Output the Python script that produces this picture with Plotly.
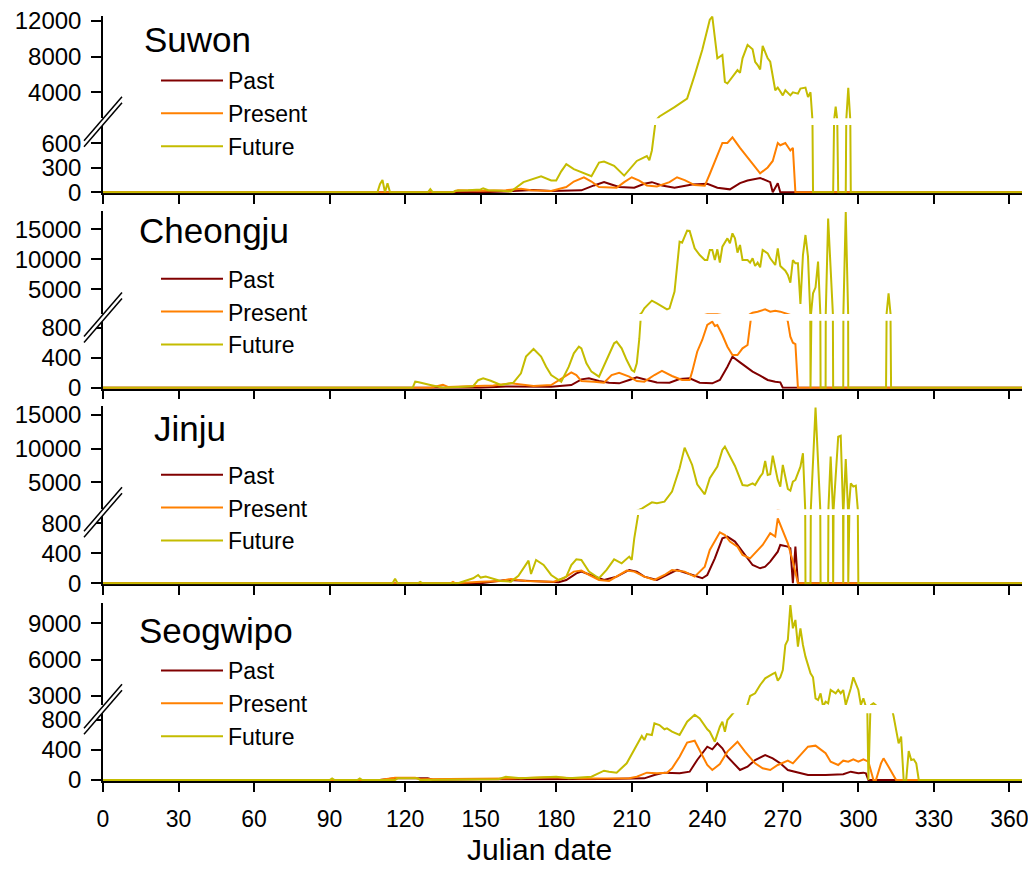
import plotly.graph_objects as go

# ---------------- data ----------------
stations = ["Suwon", "Cheongju", "Jinju", "Seogwipo"]
series_names = ["Past", "Present", "Future"]
series_colors = ["#800000", "#FF8000", "#C4BC00"]
x_tick_vals = [0, 30, 60, 90, 120, 150, 180, 210, 240, 270, 300, 330, 360]
x_title = "Julian date"

lower_ticks = [[0, 300, 600], [0, 400, 800], [0, 400, 800], [0, 400, 800]]
upper_ticks = [[4000, 8000, 12000], [5000, 10000, 15000], [5000, 10000, 15000], [3000, 6000, 9000]]

# Suwon
suwon_past_day = [0, 150, 160, 171, 178, 190, 195, 199, 201, 205, 211, 215, 218, 222, 227, 234, 240, 244, 249, 253, 256, 261, 265, 266, 268, 269, 365]
suwon_past_val = [0, 0, 10, 28, 16, 24, 84, 124, 104, 64, 56, 104, 124, 84, 56, 96, 104, 56, 36, 112, 144, 176, 124, 0, 112, 0, 0]
suwon_present_day = [0, 139, 141, 150, 160, 166, 170, 178, 184, 187, 191, 194, 197, 204, 207, 210, 213, 216, 220, 225, 228, 231, 235, 239, 241, 244, 246, 248, 250, 253, 258, 261, 264, 266, 268, 269, 271, 272, 273, 274, 275, 365]
suwon_present_val = [0, 0, 25, 20, 25, 44, 24, 16, 64, 132, 184, 132, 64, 56, 124, 184, 144, 84, 72, 124, 184, 150, 88, 80, 224, 464, 604, 604, 672, 544, 344, 232, 304, 384, 604, 576, 604, 556, 512, 544, 0, 0]
suwon_future_day = [0, 109, 110, 111, 112, 113, 114, 129, 130, 131, 139, 140, 145, 150, 151, 153, 158, 162, 167, 174, 178, 180, 182, 184, 187, 190, 194, 197, 199, 203, 207, 212, 216, 217, 218, 220, 221, 227, 232, 235, 238, 241, 242, 244, 246, 247, 248, 252, 253, 254, 256, 258, 259, 260, 261, 262, 264, 265, 267, 268, 270, 271, 273, 274, 276, 277, 279, 280, 281, 282, 290, 291, 292, 295, 296, 297, 365]
suwon_future_val = [0, 0, 100, 150, 0, 110, 0, 0, 40, 0, 0, 20, 25, 35, 50, 25, 20, 10, 124, 196, 144, 144, 256, 344, 284, 244, 196, 364, 376, 324, 204, 384, 444, 392, 512, 1000, 1300, 2343, 3290, 5916, 8733, 12114, 12450, 7797, 8170, 5160, 4980, 6480, 6175, 7800, 9300, 8810, 7415, 7040, 6560, 9180, 7800, 7415, 4225, 4530, 3660, 4225, 3660, 4000, 3850, 4415, 4530, 3470, 4000, 0, 0, 2400, 0, 0, 4500, 0, 0]

# Cheongju
cheongju_past_day = [0, 150, 160, 178, 186, 190, 193, 197, 201, 205, 209, 212, 216, 220, 225, 229, 233, 237, 242, 245, 248, 250, 253, 256, 258, 261, 264, 267, 269, 270, 365]
cheongju_past_val = [0, 0, 15, 13, 36, 111, 125, 89, 67, 58, 103, 138, 103, 71, 67, 116, 125, 67, 58, 103, 280, 414, 338, 258, 214, 160, 103, 80, 71, 0, 0]
cheongju_present_day = [0, 130, 135, 137, 145, 155, 162, 171, 178, 182, 186, 188, 190, 195, 199, 202, 205, 209, 212, 215, 219, 222, 226, 230, 233, 234, 236, 238, 240, 242, 243, 244, 246, 248, 250, 252, 254, 256, 257, 258, 260, 263, 265, 267, 269, 271, 272, 273, 274, 275, 276, 365]
cheongju_present_val = [0, 0, 40, 10, 20, 30, 58, 22, 36, 125, 205, 169, 89, 80, 67, 169, 200, 147, 89, 80, 169, 223, 156, 103, 103, 214, 480, 636, 836, 880, 823, 836, 703, 547, 436, 436, 525, 569, 880, 1100, 1272, 1661, 1272, 1439, 1272, 1000, 880, 680, 600, 582, 0, 0]
cheongju_future_day = [0, 123, 124, 125, 130, 135, 147, 149, 151, 154, 158, 163, 166, 168, 171, 173, 174, 176, 178, 181, 182, 185, 187, 189, 190, 192, 194, 197, 200, 203, 204, 206, 208, 210, 211, 212, 213, 214, 215, 218, 220, 224, 225, 227, 229, 230, 232, 233, 235, 237, 239, 240, 241, 242, 243, 244, 245, 246, 248, 249, 250, 251, 252, 253, 254, 256, 257, 258, 259, 260, 261, 262, 264, 265, 267, 268, 269, 271, 272, 273, 274, 275, 276, 277, 278, 279, 280, 281, 282, 283, 284, 285, 287, 288, 290, 294, 295, 296, 311, 312, 313, 365]
cheongju_future_val = [0, 0, 80, 75, 36, 0, 20, 100, 124, 93, 36, 67, 191, 414, 516, 449, 414, 280, 169, 103, 80, 280, 458, 547, 525, 325, 214, 147, 369, 592, 614, 525, 369, 236, 214, 325, 650, 1100, 1828, 3105, 2661, 1661, 1828, 4606, 12939, 12767, 14767, 14711, 11828, 10717, 9883, 9883, 11550, 11550, 9883, 11661, 9440, 12106, 13495, 12661, 14328, 13495, 11106, 12384, 9883, 9883, 9440, 10161, 8883, 9440, 8661, 11550, 10995, 10161, 9050, 11828, 8883, 8106, 7383, 6106, 9883, 9328, 9328, 2550, 10717, 14050, 10439, 0, 4328, 5328, 9606, 0, 0, 16800, 0, 0, 17900, 0, 0, 4328, 0, 0]

# Jinju
jinju_past_day = [0, 150, 160, 168, 181, 184, 188, 190, 195, 199, 204, 209, 212, 215, 220, 224, 228, 232, 238, 240, 243, 246, 248, 251, 255, 258, 261, 263, 265, 268, 269, 272, 273, 274, 275, 276, 365]
jinju_past_val = [0, 0, 44, 31, 13, 44, 133, 156, 89, 44, 89, 178, 156, 89, 44, 111, 178, 133, 67, 111, 333, 600, 622, 556, 378, 244, 200, 222, 289, 422, 511, 489, 467, 0, 489, 0, 0]
jinju_present_day = [0, 138, 139, 140, 150, 158, 162, 168, 179, 183, 187, 190, 193, 197, 201, 205, 208, 211, 215, 219, 223, 226, 231, 235, 239, 241, 245, 247, 249, 252, 254, 257, 259, 262, 265, 267, 268, 270, 272, 274, 276, 365]
jinju_present_val = [0, 0, 20, 0, 20, 31, 58, 31, 22, 67, 156, 169, 111, 44, 31, 111, 169, 156, 89, 44, 111, 178, 156, 89, 222, 444, 680, 644, 556, 489, 378, 333, 400, 511, 667, 622, 867, 689, 533, 289, 0, 0]
jinju_future_day = [0, 115, 116, 117, 125, 126, 127, 141, 147, 149, 150, 152, 158, 162, 165, 169, 170, 172, 175, 178, 181, 184, 186, 188, 190, 193, 197, 200, 203, 206, 209, 210, 211, 213, 214, 218, 220, 223, 226, 229, 231, 234, 236, 239, 241, 244, 246, 247, 249, 251, 254, 256, 258, 259, 261, 262, 263, 264, 265, 266, 268, 269, 270, 272, 273, 274, 275, 277, 278, 279, 281, 283, 285, 288, 289, 290, 292, 293, 294, 295, 296, 297, 298, 299, 300, 365]
jinju_future_val = [0, 0, 60, 0, 0, 20, 0, 0, 67, 111, 76, 89, 31, 22, 100, 302, 124, 311, 244, 111, 44, 89, 244, 320, 311, 156, 67, 178, 320, 267, 356, 311, 600, 900, 1100, 2028, 1880, 2127, 3613, 7080, 10151, 7576, 4703, 3217, 5594, 7328, 9804, 10300, 8814, 7427, 4604, 4505, 4851, 4604, 5842, 6337, 8170, 6090, 6189, 8962, 5347, 4356, 7576, 4009, 3762, 5099, 5347, 7328, 9309, 0, 0, 16100, 0, 0, 8814, 0, 11786, 11934, 0, 8467, 0, 4851, 4356, 4505, 0, 0]

# Seogwipo
seogwipo_past_day = [0, 110, 116, 129, 131, 150, 200, 215, 219, 223, 229, 233, 236, 240, 242, 244, 246, 248, 253, 256, 259, 263, 266, 269, 272, 276, 280, 287, 294, 297, 300, 302, 303, 304, 365]
seogwipo_past_val = [0, 0, 22, 22, 5, 10, 13, 22, 67, 98, 89, 111, 267, 444, 409, 489, 422, 311, 133, 178, 267, 333, 289, 222, 133, 98, 67, 67, 76, 111, 89, 98, 89, 0, 0]
seogwipo_present_day = [0, 110, 116, 124, 126, 133, 150, 160, 178, 190, 209, 212, 216, 220, 224, 226, 229, 232, 235, 237, 240, 242, 245, 248, 252, 255, 259, 262, 265, 268, 272, 274, 278, 280, 283, 287, 289, 292, 294, 296, 298, 300, 302, 304, 306, 307, 309, 310, 312, 315, 365]
seogwipo_present_val = [0, 0, 31, 31, 10, 13, 13, 20, 36, 20, 22, 44, 98, 89, 98, 156, 311, 498, 524, 400, 200, 133, 213, 378, 511, 378, 222, 156, 133, 200, 258, 222, 378, 444, 458, 356, 244, 200, 258, 244, 276, 244, 276, 244, 0, 0, 222, 289, 178, 0, 0]
seogwipo_future_day = [0, 90, 91, 92, 101, 102, 103, 116, 117, 125, 126, 134, 135, 149, 157, 160, 166, 180, 185, 194, 199, 201, 204, 208, 211, 214, 215, 216, 218, 219, 221, 223, 224, 226, 229, 232, 235, 237, 240, 241, 243, 245, 246, 247, 248, 250, 252, 254, 256, 257, 259, 261, 263, 266, 267, 268, 269, 270, 271, 272, 273, 274, 275, 276, 277, 278, 279, 281, 282, 283, 284, 285, 286, 287, 288, 289, 291, 292, 293, 294, 295, 297, 298, 300, 301, 302, 303, 304, 305, 306, 307, 309, 311, 313, 314, 316, 317, 318, 319, 320, 321, 322, 323, 324, 365]
seogwipo_future_val = [0, 0, 20, 0, 0, 20, 0, 0, 22, 22, 0, 0, 10, 10, 10, 44, 22, 44, 22, 44, 124, 111, 98, 222, 409, 587, 533, 613, 600, 756, 733, 676, 689, 644, 600, 778, 870, 822, 676, 644, 511, 711, 778, 644, 800, 880, 960, 1500, 2300, 3000, 3220, 3908, 4459, 4817, 4927, 4266, 4542, 5147, 7212, 7625, 10500, 8589, 9277, 7075, 8589, 7212, 6249, 4872, 4542, 2807, 2670, 3220, 2119, 2532, 2394, 3496, 3220, 3496, 3220, 3496, 2257, 3633, 4542, 3496, 2257, 2807, 2119, 0, 2257, 2394, 2257, 1900, 1500, 1000, 850, 489, 578, 0, 0, 387, 267, 276, 222, 0, 0]

station_series = [
    [(suwon_past_day, suwon_past_val), (suwon_present_day, suwon_present_val), (suwon_future_day, suwon_future_val)],
    [(cheongju_past_day, cheongju_past_val), (cheongju_present_day, cheongju_present_val), (cheongju_future_day, cheongju_future_val)],
    [(jinju_past_day, jinju_past_val), (jinju_present_day, jinju_present_val), (jinju_future_day, jinju_future_val)],
    [(seogwipo_past_day, seogwipo_past_val), (seogwipo_present_day, seogwipo_present_val), (seogwipo_future_day, seogwipo_future_val)],
]

# ---------------- layout geometry (screen pixels) ----------------
OFF = 8                              # page body margin of the browser
W, H = 1036 - 2 * OFF, 873 - 2 * OFF  # figure size that fits without scrollbars
ML, MR, MT = 103 - OFF, W - (1022 - OFF), 0
MB = H - (781 - OFF)
PW = W - ML - MR
PH = H - MT - MB


def pxx(p):
    return (p - OFF - ML) / PW


def pxy(p):
    return 1 - (p - OFF - MT) / PH


# tick calibration (value, screen pixel) for lower / upper segments
cal_lower = [((0, 192.3), (600, 143.3)), ((0, 387.7), (800, 327.7)),
             ((0, 583.3), (800, 523.3)), ((0, 780.0), (800, 720.0))]
cal_upper = [((4000, 92.3), (12000, 20.7)), ((5000, 289.3), (15000, 229.3)),
             ((5000, 482.3), (15000, 415.0)), ((3000, 696.0), (9000, 623.3))]
dom_lower_px = [(193.3, 125.0), (388.7, 320.7), (584.3, 515.0), (781.0, 713.3)]
dom_upper_px = [(118.3, 15.5), (314.0, 210.5), (509.3, 405.5), (705.0, 603.0)]
title_pos = [(142, 40), (137, 230), (152, 428.5), (137, 630)]
legend_first_row = [80.5, 278.7, 474.7, 670.5]
break_centres = [121.7, 317.4, 512.2, 709.2]


def val_at(cal, p):
    (v1, p1), (v2, p2) = cal
    return v1 + (p - p1) * (v2 - v1) / (p2 - p1)


FONT = "Liberation Sans, Arial, sans-serif"
fig = go.Figure()

for i, st in enumerate(stations):
    xa = "x" if i == 0 else f"x{i + 1}"
    yl = f"y{2 * i + 1}" if i > 0 else "y"
    yu = f"y{2 * i + 2}"
    leg = "legend" if i == 0 else f"legend{i + 1}"
    for k, (days, vals) in enumerate(station_series[i]):
        for seg, ya in enumerate([yl, yu]):
            fig.add_trace(go.Scatter(
                x=days, y=vals, mode="lines", name=series_names[k],
                line=dict(color=series_colors[k], width=2),
                xaxis=xa, yaxis=ya, legend=leg,
                showlegend=(seg == 0), hoverinfo="skip"))

layout = dict(
    width=W, height=H,
    margin=dict(l=ML, r=MR, t=MT, b=MB, autoexpand=False),
    paper_bgcolor="white", plot_bgcolor="white",
    font=dict(family=FONT, color="black"),
    annotations=[], shapes=[],
)

for i, st in enumerate(stations):
    xkey = "xaxis" if i == 0 else f"xaxis{i + 1}"
    ylkey = "yaxis" if i == 0 else f"yaxis{2 * i + 1}"
    yukey = f"yaxis{2 * i + 2}"
    yl_name = "y" if i == 0 else f"y{2 * i + 1}"
    x_name = "x" if i == 0 else f"x{i + 1}"
    last = (i == len(stations) - 1)
    layout[xkey] = dict(
        domain=[0, 1], range=[0, 365], anchor=yl_name,
        tickmode="array", tickvals=x_tick_vals, showticklabels=last,
        ticks="outside", ticklen=9, tickwidth=1.5, tickcolor="black",
        showline=True, linecolor="black", linewidth=1.5,
        showgrid=False, zeroline=False, layer="below traces",
        tickfont=dict(size=23, family=FONT), ticklabelstandoff=8,
        ticklabeloverflow="allow",
    )
    lb, lt = dom_lower_px[i]
    ub, ut = dom_upper_px[i]
    common_y = dict(
        anchor=x_name, ticks="outside", ticklen=10, tickwidth=1.5,
        tickcolor="black", showline=True, linecolor="black", linewidth=1.5,
        showgrid=False, zeroline=False, tickmode="array", tickformat="d",
        tickfont=dict(size=24, family=FONT), ticklabelstandoff=5,
        ticklabeloverflow="allow", layer="below traces",
    )
    layout[ylkey] = dict(common_y, domain=[pxy(lb), pxy(lt)],
                         range=[val_at(cal_lower[i], lb), val_at(cal_lower[i], lt)],
                         tickvals=lower_ticks[i])
    layout[yukey] = dict(common_y, domain=[pxy(ub), pxy(ut)],
                         range=[val_at(cal_upper[i], ub), val_at(cal_upper[i], ut)],
                         tickvals=upper_ticks[i])
    # station name
    tx, ty = title_pos[i]
    layout["annotations"].append(dict(
        text=st, xref="paper", yref="paper", x=pxx(tx), y=pxy(ty),
        xanchor="left", yanchor="middle", showarrow=False,
        font=dict(size=35, family=FONT, color="black")))
    # legend for the panel
    legkey = "legend" if i == 0 else f"legend{i + 1}"
    layout[legkey] = dict(
        x=pxx(156), y=pxy(legend_first_row[i] - 21.5), xanchor="left", yanchor="top",
        bgcolor="rgba(0,0,0,0)", borderwidth=0, itemwidth=62,
        font=dict(size=23, family=FONT, color="black"),
        tracegroupgap=0, itemclick=False, itemdoubleclick=False)
    # axis-break marks
    c = break_centres[i]
    x1, x2 = 84, 122
    half = 22
    off = 3
    p = [(x1, c + half - off), (x2, c - half - off), (x2, c - half + off), (x1, c + half + off)]
    path = "M " + " L ".join(f"{pxx(a):.5f},{pxy(b):.5f}" for a, b in p) + " Z"
    layout["shapes"].append(dict(type="path", xref="paper", yref="paper", path=path,
                                 fillcolor="white", line=dict(width=0)))
    for (a1, b1), (a2, b2) in [(p[0], p[1]), (p[3], p[2])]:
        layout["shapes"].append(dict(type="line", xref="paper", yref="paper",
                                     x0=pxx(a1), y0=pxy(b1), x1=pxx(a2), y1=pxy(b2),
                                     line=dict(color="black", width=1.5)))

layout["annotations"].append(dict(
    text=x_title, xref="paper", yref="paper", x=pxx(539), y=pxy(849),
    xanchor="center", yanchor="middle", showarrow=False,
    font=dict(size=30, family=FONT, color="black")))

fig.update_layout(**layout)
fig.write_html("out.html")
